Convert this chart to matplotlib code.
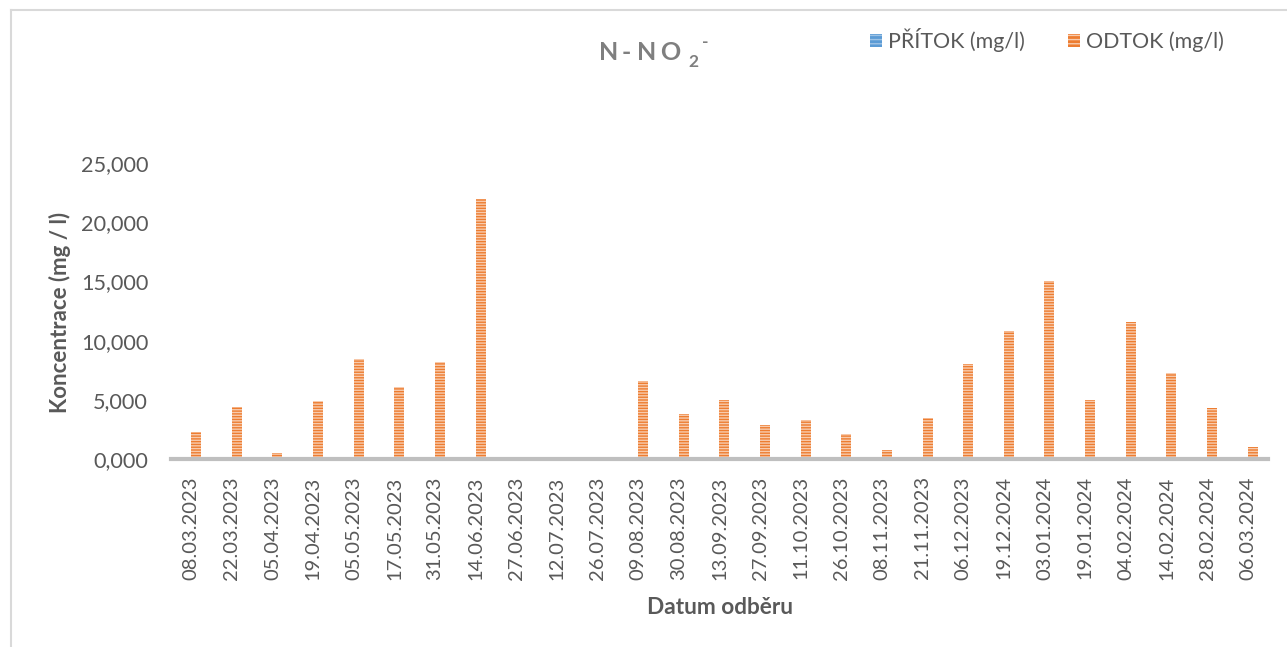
import matplotlib
matplotlib.use("Agg")
import matplotlib.pyplot as plt
import numpy as np
from matplotlib.ticker import FuncFormatter, FixedLocator
from matplotlib.patches import Patch
from matplotlib.lines import Line2D

plt.rcParams['hatch.linewidth'] = 1.0

dates = ["08.03.2023", "22.03.2023", "05.04.2023", "19.04.2023", "05.05.2023",
         "17.05.2023", "31.05.2023", "14.06.2023", "27.06.2023", "12.07.2023",
         "26.07.2023", "09.08.2023", "30.08.2023", "13.09.2023", "27.09.2023",
         "11.10.2023", "26.10.2023", "08.11.2023", "21.11.2023", "06.12.2023",
         "19.12.2024", "03.01.2024", "19.01.2024", "04.02.2024", "14.02.2024",
         "28.02.2024", "06.03.2024"]
pritok = [0.0] * 27
odtok = [2.30, 4.42, 0.53, 4.92, 8.45, 6.05, 8.17, 21.93, 0.0, 0.0,
         0.0, 6.59, 3.78, 4.98, 2.87, 3.29, 2.09, 0.76, 3.49, 8.00,
         10.84, 15.03, 4.98, 11.55, 7.24, 4.28, 1.04]
yticks = [0, 5, 10, 15, 20, 25]

FONT = ["Lato", "DejaVu Sans"]
GRAY = "#595959"
ORANGE = "#ED7D31"
BLUE = "#5B9BD5"

fig = plt.figure(figsize=(12.87, 6.47), dpi=100)
W, H = 1287, 647
ax = fig.add_axes([171 / W, 1 - 459 / H, (1268 - 171) / W, (459 - 163) / H])

x = np.arange(len(dates))
bw = 0.245
ax.bar(x - bw / 2 - 0.002, pritok, width=bw, color=BLUE, edgecolor="#9DC3E6",
       hatch="------", linewidth=0)
ax.bar(x + bw / 2 - 0.002, odtok, width=bw, color=ORANGE, edgecolor="#F8CBAD",
       hatch="------", linewidth=0)

ax.set_xlim(-0.5, len(dates) - 0.5)
ax.set_ylim(0, 25)
ax.yaxis.set_major_locator(FixedLocator(yticks))
ax.yaxis.set_major_formatter(FuncFormatter(lambda v, p: f"{v:.3f}".replace(".", ",")))
ax.set_xticks(x)
ax.set_xticklabels(dates, rotation=90, fontsize=14.5, color=GRAY, family=FONT)
for lab in ax.get_yticklabels():
    lab.set_fontsize(15.6)
    lab.set_color(GRAY)
    lab.set_family(FONT)
ax.tick_params(axis="both", length=0)
ax.tick_params(axis="y", pad=16.5)
ax.tick_params(axis="x", pad=12.5)
for s in ["left", "right", "top"]:
    ax.spines[s].set_visible(False)
ax.spines["bottom"].set_color("#BFBFBF")
ax.spines["bottom"].set_linewidth(3)

fig.text(60 / W, 1 - 312 / H, "Koncentrace (mg / l)", rotation=90, fontsize=16,
         fontweight="bold", color=GRAY, family=FONT, ha="center", va="center")
fig.text(720 / W, 1 - 608 / H, "Datum odběru", fontsize=16.3, fontweight="bold",
         color=GRAY, family=FONT, ha="center", va="center")

# title, letter-spaced
TC = "#7F7F7F"
for ch, px, py, fs in [("N", 599, 53, 18), ("-", 622, 53, 18), ("N", 637, 53, 18),
                       ("O", 660, 53, 18), ("2", 688, 62, 12.5), ("-", 702, 42, 12.5)]:
    fig.text(px / W, 1 - py / H, ch, fontsize=fs, fontweight="bold",
             color=TC, family=FONT, va="center", ha="left")

# legend
handles = [Patch(facecolor=BLUE, edgecolor="#9DC3E6", hatch="----", linewidth=0),
           Patch(facecolor=ORANGE, edgecolor="#F8CBAD", hatch="----", linewidth=0)]
leg = fig.legend(handles, ["PŘÍTOK (mg/l)", "ODTOK (mg/l)"], loc="center",
                 bbox_to_anchor=(1047 / W, 1 - 40 / H), ncol=2, frameon=False,
                 prop={"family": FONT, "size": 15.4}, handlelength=0.55,
                 handleheight=0.55, handletextpad=0.3, columnspacing=2.0)
for t in leg.get_texts():
    t.set_color(GRAY)

# chart border (left and top)
fig.add_artist(Line2D([11 / W, 11 / W], [0, 1 - 10 / H], transform=fig.transFigure,
                      color="#D9D9D9", linewidth=1.5))
fig.add_artist(Line2D([11 / W, 1], [1 - 10 / H, 1 - 10 / H], transform=fig.transFigure,
                      color="#D9D9D9", linewidth=1.5))

fig.savefig("out.png", dpi=100)
